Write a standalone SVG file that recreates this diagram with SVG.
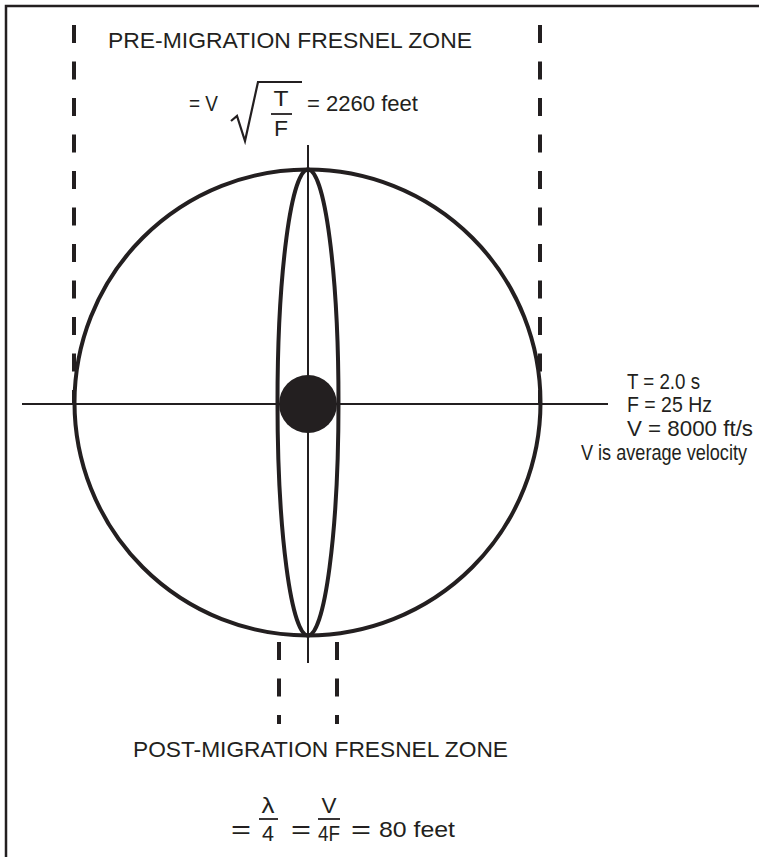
<svg xmlns="http://www.w3.org/2000/svg" width="759" height="857" viewBox="0 0 759 857">
  <style>
    .ln { fill: none; stroke: #231f20; }
    .thick { stroke-width: 4; }
    .thin { stroke-width: 2; }
    .dash { fill: none; stroke: #231f20; stroke-width: 4; stroke-dasharray: 18 18.5; }
    .t { font-family: "Liberation Sans", Arial, sans-serif; font-size: 22px; fill: #231f20; }
    .m { text-anchor: middle; }
    .eq { font-size: 25px; }
  </style>
  <rect x="0" y="0" width="759" height="857" fill="#ffffff"/>
  <g id="frame">
    <path class="ln" d="M6,857 V6 H759" stroke-width="2.5"/>
  </g>
  <g id="connectors">
    <line class="ln thin" x1="22" y1="404" x2="608" y2="404"/>
    <line class="ln thin" x1="308" y1="145" x2="308" y2="663"/>
    <line class="dash" x1="74" y1="25" x2="74" y2="405"/>
    <line class="dash" x1="540" y1="25" x2="540" y2="405"/>
    <line class="dash" x1="279" y1="642" x2="279" y2="724"/>
    <line class="dash" x1="337" y1="642" x2="337" y2="724"/>
  </g>
  <g id="circle">
    <circle class="ln thick" cx="307.5" cy="402.5" r="233"/>
  </g>
  <g id="ellipse">
    <ellipse class="ln thick" cx="308" cy="402.5" rx="30.5" ry="233"/>
  </g>
  <g id="dot">
    <circle cx="308" cy="404" r="29" fill="#231f20"/>
  </g>
  <g id="pre-migration">
    <text class="t" x="108" y="48" textLength="364" lengthAdjust="spacingAndGlyphs">PRE-MIGRATION FRESNEL ZONE</text>
    <text class="t" x="189" y="111" textLength="29" lengthAdjust="spacingAndGlyphs">= V</text>
    <path class="ln" stroke-width="2.2" d="M231,121 L237,116 L245,141 L258,82 H302"/>
    <text class="t m" x="281" y="106" textLength="15" lengthAdjust="spacingAndGlyphs">T</text>
    <line class="ln" stroke-width="1.8" x1="271" y1="114" x2="292" y2="114"/>
    <text class="t m" x="281" y="136" textLength="14" lengthAdjust="spacingAndGlyphs">F</text>
    <text class="t" x="307" y="111" textLength="111" lengthAdjust="spacingAndGlyphs">= 2260 feet</text>
  </g>
  <g id="parameters">
    <text class="t" x="627" y="389" textLength="73" lengthAdjust="spacingAndGlyphs">T = 2.0 s</text>
    <text class="t" x="627" y="412" textLength="85" lengthAdjust="spacingAndGlyphs">F = 25 Hz</text>
    <text class="t" x="627" y="436" textLength="126" lengthAdjust="spacingAndGlyphs">V = 8000 ft/s</text>
    <text class="t" x="581" y="460" textLength="166" lengthAdjust="spacingAndGlyphs">V is average velocity</text>
  </g>
  <g id="post-migration">
    <text class="t" x="133" y="757" textLength="375" lengthAdjust="spacingAndGlyphs">POST-MIGRATION FRESNEL ZONE</text>
    <text class="t eq" x="231" y="838" textLength="20" lengthAdjust="spacingAndGlyphs">=</text>
    <text class="t m" x="268" y="813" textLength="13" lengthAdjust="spacingAndGlyphs">λ</text>
    <line class="ln" stroke-width="1.8" x1="259" y1="819" x2="278" y2="819"/>
    <text class="t m" x="268" y="841" textLength="12" lengthAdjust="spacingAndGlyphs">4</text>
    <text class="t eq" x="291" y="838" textLength="20" lengthAdjust="spacingAndGlyphs">=</text>
    <text class="t m" x="329" y="813" textLength="15" lengthAdjust="spacingAndGlyphs">V</text>
    <line class="ln" stroke-width="1.8" x1="318" y1="819" x2="340" y2="819"/>
    <text class="t m" x="329" y="841" textLength="22" lengthAdjust="spacingAndGlyphs">4F</text>
    <text class="t eq" x="351" y="838" textLength="20" lengthAdjust="spacingAndGlyphs">=</text>
    <text class="t" x="379" y="837" textLength="76" lengthAdjust="spacingAndGlyphs">80 feet</text>
  </g>
</svg>
